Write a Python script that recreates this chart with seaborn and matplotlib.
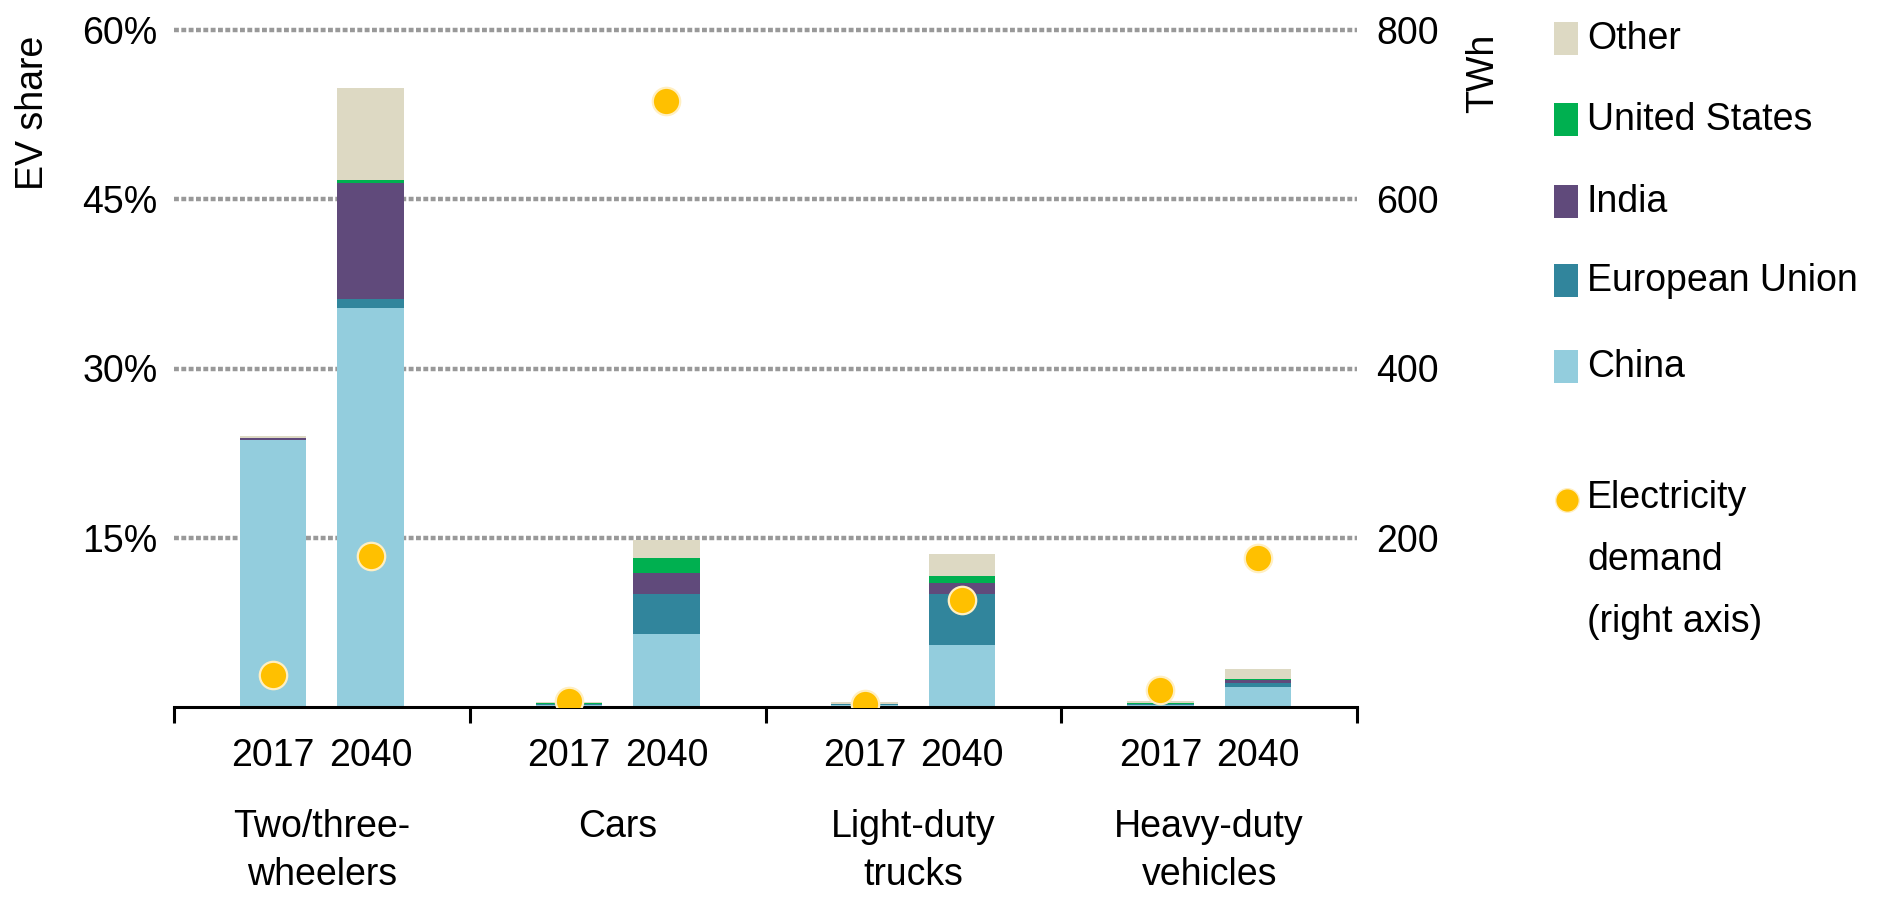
import pandas as pd
import seaborn as sns
import numpy as np
import matplotlib.pyplot as plt
from matplotlib import font_manager
from matplotlib.patches import Rectangle
from matplotlib.lines import Line2D

# EV share by region (% of sales)
groups = ['Two/three-\nwheelers', 'Cars', 'Light-duty\ntrucks', 'Heavy-duty\nvehicles']
years = ['2017', '2040']
regions = ['China', 'European Union', 'India', 'United States', 'Other']
china_2017 = [23.7, 0.2, 0.2, 0.2]
china_2040 = [35.4, 6.5, 5.5, 1.8]
eu_2017 = [0.0, 0.1, 0.05, 0.1]
eu_2040 = [0.8, 3.5, 4.5, 0.3]
india_2017 = [0.1, 0.0, 0.0, 0.0]
india_2040 = [10.2, 1.9, 1.0, 0.3]
us_2017 = [0.0, 0.05, 0.05, 0.05]
us_2040 = [0.3, 1.3, 0.6, 0.05]
other_2017 = [0.2, 0.1, 0.1, 0.15]
other_2040 = [8.2, 1.6, 2.0, 0.9]
# electricity demand (TWh, right axis)
demand_2017 = [38, 7, 4, 20]
demand_2040 = [178, 716, 126, 176]

colors = {'China': '#93CDDD', 'European Union': '#31859C', 'India': '#604A7B',
          'United States': '#00B050', 'Other': '#DDD9C3'}
yellow = '#FFC000'

names = {f.name for f in font_manager.fontManager.ttflist}
fam = 'Liberation Sans Narrow' if 'Liberation Sans Narrow' in names else 'Liberation Sans'
fs = 31 if fam == 'Liberation Sans Narrow' else 27

sns.set_style('white')
plt.rcParams['font.family'] = [fam, 'DejaVu Sans']
plt.rcParams['font.size'] = fs
plt.rcParams['text.color'] = 'black'
plt.rcParams['xtick.color'] = 'black'
plt.rcParams['ytick.color'] = 'black'

vals = {
    'China': (china_2017, china_2040),
    'European Union': (eu_2017, eu_2040),
    'India': (india_2017, india_2040),
    'United States': (us_2017, us_2040),
    'Other': (other_2017, other_2040),
}
rows = []
for r in regions:
    for y, arr in zip(years, vals[r]):
        for g, v in zip(groups, arr):
            rows.append({'group': g, 'year': y, 'region': r, 'value': v})
df = pd.DataFrame(rows)
df['top'] = df.groupby(['group', 'year'])['value'].cumsum()

fig = plt.figure(figsize=(18.8, 9.01), dpi=100)
W, H = 1880, 901
ax = fig.add_axes([174 / W, 1 - 707 / H, (1357 - 174) / W, (707 - 30) / H])

# stacked bars: draw cumulative tops from the highest layer down
for r in regions[::-1]:
    sub = df[df['region'] == r]
    sns.barplot(data=sub, x='group', y='top', hue='year', order=groups, hue_order=years,
                palette=[colors[r], colors[r]], width=0.66, gap=0.32, saturation=1,
                errorbar=None, legend=False, linewidth=0, ax=ax)

ax.set_xlim(-0.5, 3.5)
ax.set_ylim(0, 60)
ax.set_yticks([15, 30, 45, 60])
ax.set_yticklabels(['15%', '30%', '45%', '60%'])
ax.tick_params(axis='y', length=0, pad=12)
ax.yaxis.grid(True, color='#999999', linestyle=(0, (1.1, 0.55)), linewidth=3.2)
for gl in ax.yaxis.get_gridlines():
    gl.set_clip_on(False)
ax.set_axisbelow(True)
ax.set_xlabel('')
ax.set_ylabel('')
for s in ['top', 'left', 'right']:
    ax.spines[s].set_visible(False)
ax.spines['bottom'].set_linewidth(2.2)
ax.spines['bottom'].set_color('black')

offsets = [-0.165, 0.165]
ax.set_xticks(np.arange(-0.5, 4.0, 1.0))
ax.set_xticklabels([''] * 5)
ax.tick_params(axis='x', which='major', bottom=True, length=11.5, width=2.2,
               color='black', direction='out')
minor_pos = [g + o for g in range(len(groups)) for o in offsets]
ax.set_xticks(minor_pos, minor=True)
ax.set_xticklabels(years * len(groups), minor=True)
ax.tick_params(axis='x', which='minor', bottom=True, length=0, pad=22)
for i, g in enumerate(groups):
    ax.text(i, -0.15, g, transform=ax.get_xaxis_transform(), ha='center', va='top',
            linespacing=1.45)

# electricity demand on the right axis
ax2 = ax.twinx()
pts = pd.DataFrame({
    'x': [i + offsets[j] for j in range(2) for i in range(len(groups))],
    'demand': demand_2017 + demand_2040,
})
sns.scatterplot(data=pts, x='x', y='demand', ax=ax2, color=yellow, s=390,
                edgecolor='#FFEFC2', linewidth=1.6, zorder=5)
ax2.set_ylim(0, 800)
ax2.set_xlim(-0.5, 3.5)
ax2.set_yticks([200, 400, 600, 800])
ax2.tick_params(axis='y', length=0, pad=14)
ax2.set_xlabel('')
ax2.set_ylabel('')
for s in ax2.spines.values():
    s.set_visible(False)

fig.text(33 / W, 1 - 113 / H, 'EV share', rotation=90, ha='center', va='center')
fig.text(1483 / W, 1 - 73 / H, 'TWh', rotation=90, ha='center', va='center')

# legend
leg_y = {'Other': 39, 'United States': 120, 'India': 202, 'European Union': 281, 'China': 367}
for r in regions[::-1]:
    y = leg_y[r]
    fig.add_artist(Rectangle((1554 / W, 1 - (y + 16) / H), 24 / W, 33 / H,
                             transform=fig.transFigure, facecolor=colors[r], edgecolor='none'))
    fig.text(1587 / W, 1 - y / H, r, ha='left', va='center')
fig.add_artist(Line2D([1567 / W], [1 - 500 / H], transform=fig.transFigure, marker='o',
                      markersize=17, color=yellow, markeredgecolor='#FFEFC2', linestyle='none'))
for k, line in enumerate(['Electricity', 'demand', '(right axis)']):
    fig.text(1587 / W, 1 - (498 + 62 * k) / H, line, ha='left', va='center')

plt.savefig('out.png', dpi=100)
